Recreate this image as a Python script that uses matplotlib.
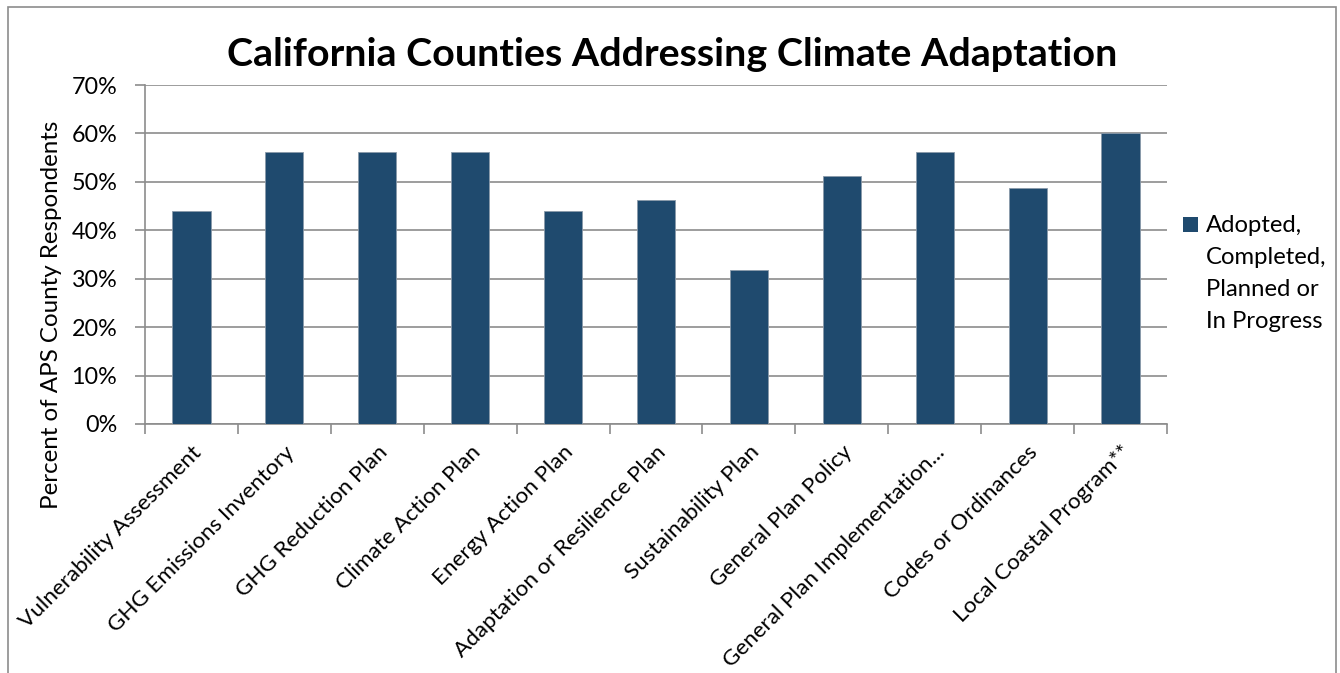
import matplotlib
matplotlib.use("Agg")
import matplotlib.pyplot as plt
from matplotlib.patches import Rectangle
from matplotlib.ticker import MultipleLocator, FuncFormatter, FixedLocator

plt.rcParams['font.family'] = ['Lato', 'DejaVu Sans']

categories = [
    "Vulnerability Assessment",
    "GHG Emissions Inventory",
    "GHG Reduction Plan",
    "Climate Action Plan",
    "Energy Action Plan",
    "Adaptation or Resilience Plan",
    "Sustainability Plan",
    "General Plan Policy",
    "General Plan Implementation...",
    "Codes or Ordinances",
    "Local Coastal Program**",
]
values = [43.9, 56.1, 56.1, 56.1, 43.9, 46.3, 31.7, 51.2, 56.1, 48.8, 60.0]
series_lines = ["Adopted,", "Completed,", "Planned or", "In Progress"]
title = "California Counties Addressing Climate Adaptation"
ylabel = "Percent of APS County Respondents"

W, H = 1340, 673
fig = plt.figure(figsize=(W / 100, H / 100), dpi=100)

# outer chart frame
fig.patches.append(Rectangle((8 / W, -0.1), (1336 - 8) / W, 1.1 - 7 / H,
                             transform=fig.transFigure, fill=False,
                             edgecolor="#8c8c8c", linewidth=1.2))

left, right, top, bottom = 145, 1167, 85, 424
ax = fig.add_axes([left / W, 1 - bottom / H, (right - left) / W, (bottom - top) / H])

bar_color = "#1f4a6e"
x = list(range(len(categories)))
ax.bar(x, values, width=0.41, color=bar_color, edgecolor="#8a9aaa", linewidth=0.6, zorder=3)

ax.set_xlim(-0.5, len(categories) - 0.5)
ax.set_ylim(0, 70)
ax.yaxis.set_major_locator(MultipleLocator(10))
ax.yaxis.set_major_formatter(FuncFormatter(lambda v, p: f"{v:.0f}%"))
ax.grid(axis="y", color="#8c8c8c", linewidth=1.2, zorder=0)

for s in ["top", "right"]:
    ax.spines[s].set_visible(False)
for s in ["left", "bottom"]:
    ax.spines[s].set_color("#8c8c8c")
    ax.spines[s].set_linewidth(1.2)

# category boundary ticks, labels centred under each bar
ax.xaxis.set_major_locator(FixedLocator([i - 0.5 for i in range(len(categories) + 1)]))
ax.xaxis.set_major_formatter(FuncFormatter(lambda v, p: ""))
ax.xaxis.set_minor_locator(FixedLocator(x))
ax.set_xticklabels(categories, minor=True, rotation=45, ha="right",
                   rotation_mode="anchor", fontsize=16.2)
ax.tick_params(axis="x", which="major", length=7, width=1.2, color="#8c8c8c", direction="out")
ax.tick_params(axis="x", which="minor", length=0, pad=13)
ax.tick_params(axis="y", length=7, width=1.2, color="#8c8c8c", labelsize=16.8, pad=13)

fig.text(672 / W, 1 - 55 / H, title, ha="center", va="center",
         fontsize=28.4, fontweight="bold")
fig.text(52 / W, 1 - 315 / H, ylabel, ha="center", va="center",
         rotation=90, fontsize=17.4)

# legend
fig.patches.append(Rectangle((1183 / W, 1 - 232 / H), 15 / W, 15 / H,
                             transform=fig.transFigure, facecolor=bar_color,
                             edgecolor="none"))
for i, line in enumerate(series_lines):
    fig.text(1206 / W, 1 - (224 + 32 * i) / H, line, ha="left", va="center_baseline",
             fontsize=17.2)

fig.savefig("out.png", dpi=100)
